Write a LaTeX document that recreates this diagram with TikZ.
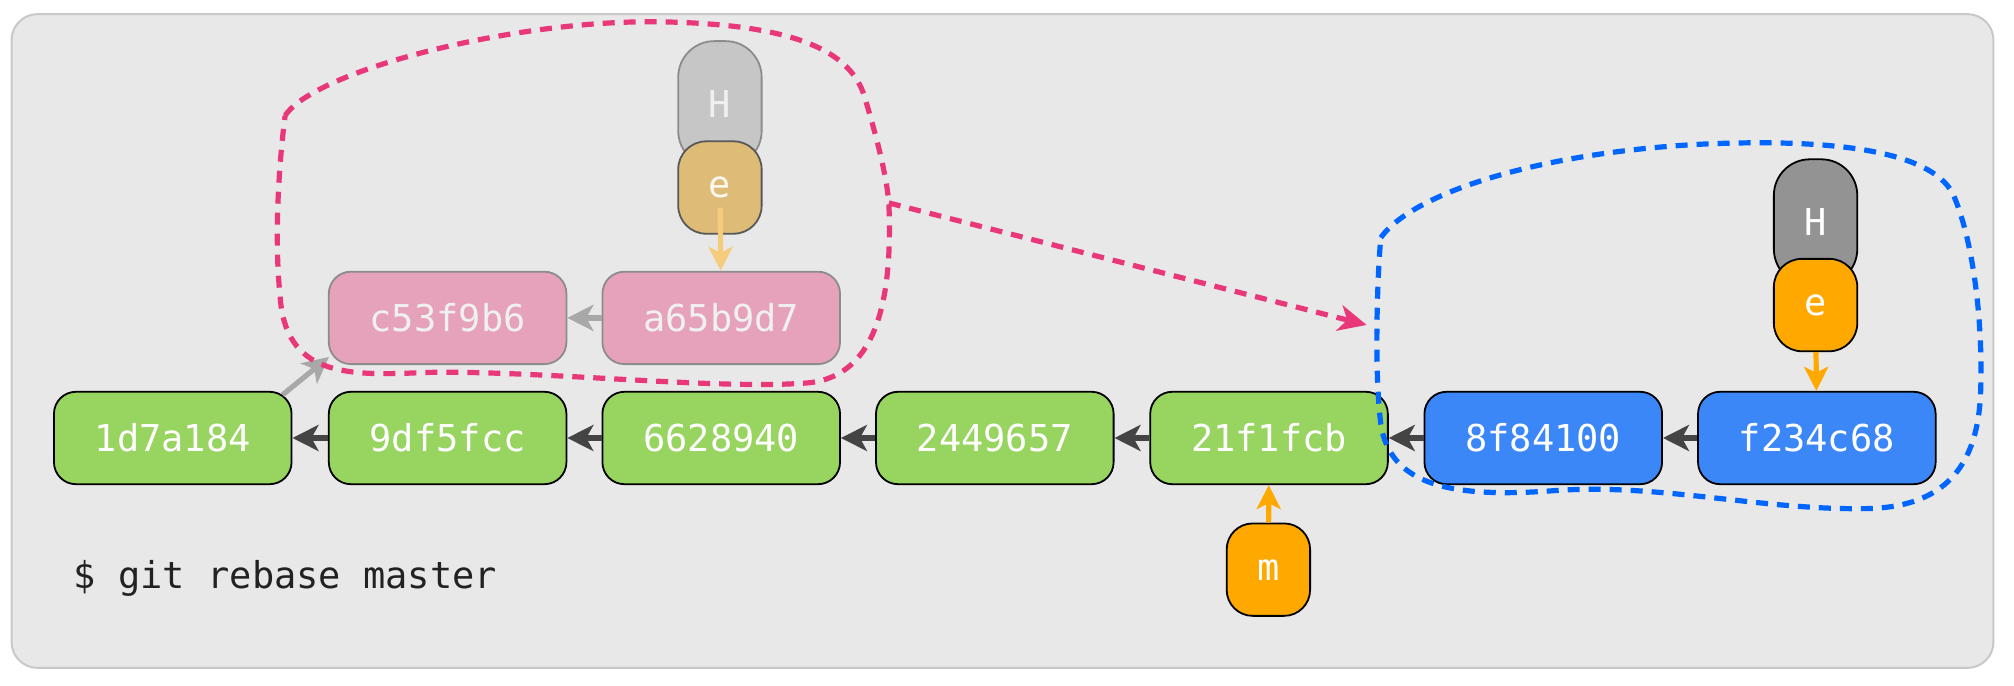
\documentclass[tikz,border=0pt]{standalone}
\usepackage{fontspec}
\setmonofont{DejaVu Sans Mono}
\usepackage{tikz}
\usetikzlibrary{arrows.meta}
\definecolor{PanelGrey}{RGB}{232,232,232}
\definecolor{PanelLine}{RGB}{200,200,200}
\definecolor{CommitGreen}{RGB}{152,212,96}
\definecolor{BranchBlue}{RGB}{60,135,248}
\definecolor{LabelOrange}{RGB}{255,168,0}
\definecolor{OldPink}{RGB}{230,162,186}
\definecolor{OldFrame}{RGB}{140,140,140}
\definecolor{OldHead}{RGB}{198,198,198}
\definecolor{NewHead}{RGB}{147,147,147}
\definecolor{OldOrange}{RGB}{222,187,118}
\definecolor{ArrowDark}{RGB}{68,68,68}
\definecolor{ArrowGrey}{RGB}{168,168,168}
\definecolor{ArrowPale}{RGB}{245,204,125}
\definecolor{LoopPink}{RGB}{232,56,122}
\definecolor{LoopBlue}{RGB}{0,102,255}
\definecolor{CmdText}{RGB}{34,34,34}

\tikzset{
  commit/.style={draw=black, line width=0.9pt, rounded corners=11pt,
    minimum width=118.8pt, minimum height=46.2pt, text=white,
    font=\ttfamily\fontsize{18.5}{20}\selectfont},
  master/.style={commit, fill=CommitGreen},
  topic/.style={commit, fill=BranchBlue},
  orphan/.style={commit, fill=OldPink, draw=OldFrame, text=white!94!black},
  headpill/.style={commit, rounded corners=18pt, minimum width=41.7pt,
    minimum height=62.9pt, fill=NewHead},
  refbox/.style={commit, rounded corners=14pt, minimum width=41.7pt,
    fill=LabelOrange},
  parent/.style={color=ArrowDark, line width=3pt,
    -{Stealth[length=13pt, width=13pt, inset=3.5pt]}},
  oldparent/.style={parent, color=ArrowGrey},
  pointer/.style={color=LabelOrange, line width=2.6pt,
    -{Stealth[length=12pt, width=12pt, inset=3pt]}},
  loop/.style={line width=2.6pt, dash pattern=on 6pt off 4.5pt},
}

\begin{document}
\begin{tikzpicture}[x=0.6422pt, y=-0.6422pt]
    \useasboundingbox (0,0) rectangle (1568,534);
    \draw[fill=PanelGrey, draw=PanelLine, line width=1pt, rounded corners=13pt]
        (9,11) rectangle (1552,520);

    % commits on master
    \node[master] (c1d7) at ( 134.5, 341) {1d7a184};
    \node[master] (c9df) at ( 348.5, 341) {9df5fcc};
    \node[master] (c662) at ( 561.5, 341) {6628940};
    \node[master] (c244) at ( 774.5, 341) {2449657};
    \node[master] (c21f) at ( 988.0, 341) {21f1fcb};
    % replayed commits
    \node[topic]  (c8f8) at (1201.5, 341) {8f84100};
    \node[topic]  (cf23) at (1414.5, 341) {f234c68};
    % commits left behind
    \node[orphan] (cc53) at ( 348.5, 247.5) {c53f9b6};
    \node[orphan] (ca65) at ( 561.5, 247.5) {a65b9d7};

    % refs
    \node[headpill, fill=OldHead, draw=OldFrame, text=white!94!black] (hold) at (560.5, 81) {H};
    \node[refbox, fill=OldOrange, draw=black!65, text=white!88!OldOrange] (eold) at (560.5, 146) {e};
    \node[headpill] (hnew) at (1413.5, 173) {H};
    \node[refbox]   (enew) at (1413.5, 237.5) {e};
    \node[refbox, rounded corners=13pt] (mref) at (987.5, 443.5) {m};

    \path[parent] (c9df) edge (c1d7);
    \path[parent] (c662) edge (c9df);
    \path[parent] (c244) edge (c662);
    \path[parent] (c21f) edge (c244);
    \path[parent] (c8f8) edge (c21f);
    \path[parent] (cf23) edge (c8f8);
    \path[oldparent] (ca65) edge (cc53);
    \path[oldparent, line width=2.6pt]
        ([xshift=-5pt, yshift=-2pt]c1d7.north east) edge ([xshift=0.5pt, yshift=4pt]cc53.south west);

    \path[pointer] (enew) edge (cf23);
    \path[pointer] (mref) edge (c21f);
    \path[pointer, color=ArrowPale, shorten <=10pt] (eold.center) edge (ca65);

    % dashed outlines
    \draw[loop, LoopPink] (222,90)
        .. controls (245,55) and (400,15) .. (515,17)
        .. controls (620,19) and (662,40) .. (673,75)
        .. controls (682,105) and (690,135) .. (692,158)
        .. controls (695,230) and (684,292) .. (630,298)
        .. controls (560,304) and (420,288) .. (330,290)
        .. controls (268,293) and (222,292) .. (218,230)
        .. controls (213,180) and (218,120) .. (222,90) -- cycle;
    \draw[loop, LoopBlue] (1075,185)
        .. controls (1100,150) and (1200,118) .. (1330,112)
        .. controls (1430,108) and (1502,118) .. (1520,150)
        .. controls (1536,185) and (1544,250) .. (1542,305)
        .. controls (1540,362) and (1515,396) .. (1450,396)
        .. controls (1370,397) and (1290,376) .. (1210,382)
        .. controls (1130,388) and (1082,378) .. (1075,330)
        .. controls (1070,290) and (1072,220) .. (1075,185) -- cycle;

    \coordinate (oldtip) at (692,158);
    \coordinate (newtip) at (1064,253);
    \path[loop, LoopPink, -{Stealth[length=14pt, width=13pt, inset=4pt]}]
        (oldtip) edge (newtip);

    \node[anchor=base west, text=CmdText, font=\ttfamily\fontsize{18.5}{20}\selectfont]
        (cmd) at (52,458) {\$ git rebase master};
\end{tikzpicture}
\end{document}
